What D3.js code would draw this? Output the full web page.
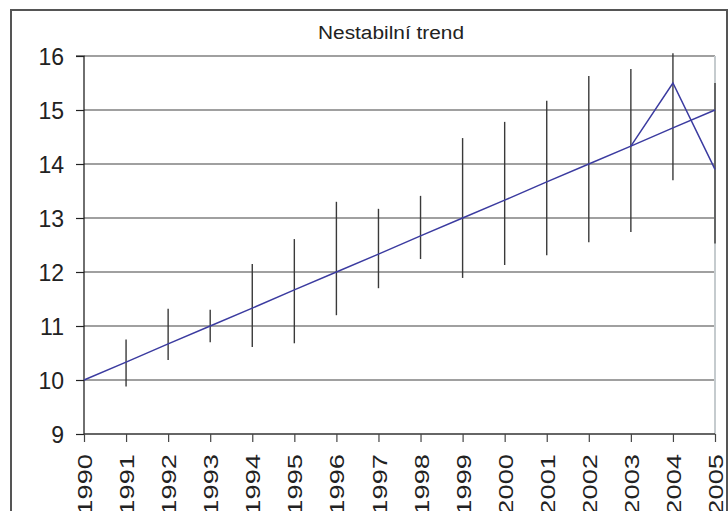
<!DOCTYPE html>
<html><head><meta charset="utf-8">
<script src="https://cdn.jsdelivr.net/npm/d3@7"></script>
<style>html,body{margin:0;padding:0;background:#fff;} svg{display:block;}</style>
</head><body>
<svg id="c" width="728" height="511"></svg>
<script>
const title = "Nestabilní trend";
const years = [1990,1991,1992,1993,1994,1995,1996,1997,1998,1999,2000,2001,2002,2003,2004,2005];
const trend = [10,10.33,10.67,11,11.33,11.67,12,12.33,12.67,13,13.33,13.67,14,14.33,14.67,15];
const unstable = [null,null,null,null,null,null,null,null,null,null,null,null,null,14.33,15.5,13.9];
const highs = [null,10.75,11.32,11.3,12.15,12.61,13.3,13.17,13.41,14.48,14.78,15.17,15.63,15.76,16.05,15.5];
const lows  = [null,9.88,10.37,10.7,10.61,10.68,11.2,11.7,12.24,11.89,12.13,12.31,12.55,12.74,13.7,12.53];
const yTicks = [9,10,11,12,13,14,15,16];

const svg = d3.select("#c");
const font = "'Liberation Sans', Arial, sans-serif";
const L = 84, R = 715, T = 56, B = 434;
const x = d3.scaleLinear().domain([1990,2005]).range([L,R]);
const y = d3.scaleLinear().domain([9,16]).range([B,T]);

// outer border
svg.append("rect").attr("x",11).attr("y",10).attr("width",716).attr("height",520)
  .attr("fill","none").attr("stroke","#555").attr("stroke-width",2);

// title
svg.append("text").attr("x",391).attr("y",39).attr("text-anchor","middle")
  .attr("font-family",font).attr("font-size",18).attr("fill","#222")
  .attr("textLength",146).attr("lengthAdjust","spacingAndGlyphs").text(title);

// gridlines
svg.append("g").selectAll("line").data(yTicks.filter(d=>d>9)).join("line")
  .attr("x1",L).attr("x2",R).attr("y1",d=>y(d)).attr("y2",d=>y(d))
  .attr("stroke","#808080").attr("stroke-width",1.5);

// right plot border
svg.append("line").attr("x1",R).attr("x2",R).attr("y1",T).attr("y2",B)
  .attr("stroke","#c5cbce").attr("stroke-width",2);

// y axis
const yAxis = d3.axisLeft(y).tickValues(yTicks).tickSize(8).tickFormat(d3.format("d"));
const gy = svg.append("g").attr("transform",`translate(${L},0)`).call(yAxis);
gy.select(".domain").attr("stroke","#111").attr("stroke-width",1.2).attr("d",`M-8,${T}H0V${B}`);
gy.selectAll(".tick line").attr("stroke","#222").attr("stroke-width",1.2);
gy.selectAll(".tick text").attr("font-family",font).attr("font-size",23).attr("fill","#222")
  .attr("x",-20).attr("dy","0.36em");

// x axis
const xAxis = d3.axisBottom(x).tickValues(years).tickSize(8).tickFormat(d3.format("d"));
const gx = svg.append("g").attr("transform",`translate(0,${B})`).call(xAxis);
gx.select(".domain").attr("stroke","#333").attr("stroke-width",1.3).attr("d",`M${L},0H${R}`);
gx.selectAll(".tick line").attr("stroke","#444").attr("stroke-width",1.2);
gx.selectAll(".tick text").attr("font-family",font).attr("font-size",21).attr("fill","#222")
  .attr("text-anchor","end").attr("y",0).attr("dy","0.36em")
  .attr("transform","translate(0,20) rotate(-90) scale(1.3,1)");

// high-low bars
const bars = years.map((yr,i)=>({yr,h:highs[i],l:lows[i]})).filter(d=>d.h!=null);
svg.append("g").selectAll("line").data(bars).join("line")
  .attr("x1",d=>x(d.yr)).attr("x2",d=>x(d.yr)).attr("y1",d=>y(d.h)).attr("y2",d=>y(d.l))
  .attr("stroke","#3a3a3a").attr("stroke-width",1.4);

// lines
const line = d3.line().defined(d=>d[1]!=null).x(d=>x(d[0])).y(d=>y(d[1]));
svg.append("path").datum(years.map((yr,i)=>[yr,trend[i]])).attr("d",line)
  .attr("fill","none").attr("stroke","#3b3ba0").attr("stroke-width",1.5);
svg.append("path").datum(years.map((yr,i)=>[yr,unstable[i]])).attr("d",line)
  .attr("fill","none").attr("stroke","#3b3ba0").attr("stroke-width",1.5);
</script>
</body></html>
